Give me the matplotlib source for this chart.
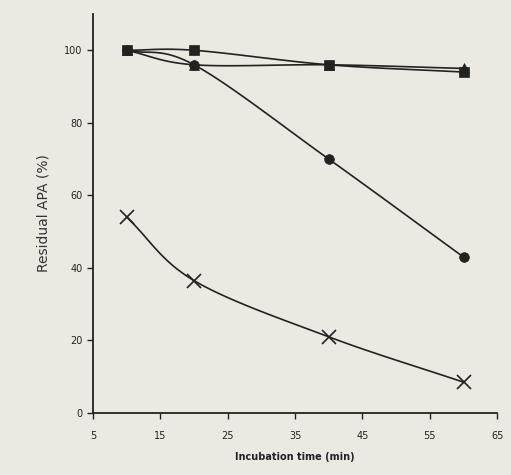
import numpy as np
import matplotlib.pyplot as plt

# incubation time (min)
times = [10, 20, 40, 60]

# residual activity (%) for each treatment
squares = [100, 100, 96, 94]
triangles = [100, 96, 96, 95]
circles = [100, 96, 70, 43]
crosses = [54, 36.5, 21, 8.5]

x_ticks = [5, 15, 25, 35, 45, 55, 65]
y_ticks = [0, 20, 40, 60, 80, 100]


def smooth(xs, ys, n=30):
    # Catmull-Rom curve through the points, like a spreadsheet "smoothed line"
    pts = np.column_stack([xs, ys]).astype(float)
    pts = np.vstack([2 * pts[0] - pts[1], pts, 2 * pts[-1] - pts[-2]])
    out = []
    for i in range(1, len(pts) - 2):
        p0, p1, p2, p3 = pts[i - 1], pts[i], pts[i + 1], pts[i + 2]
        t = np.linspace(0, 1, n)[:, None]
        seg = 0.5 * ((2 * p1) + (-p0 + p2) * t
                     + (2 * p0 - 5 * p1 + 4 * p2 - p3) * t ** 2
                     + (-p0 + 3 * p1 - 3 * p2 + p3) * t ** 3)
        out.append(seg)
    out = np.vstack(out)
    return out[:, 0], out[:, 1]


ink = '#222222'
paper = '#ece9e2'

fig = plt.figure(figsize=(5.11, 4.75), dpi=100)
fig.patch.set_facecolor(paper)
ax = fig.add_axes([0.182, 0.1305, 0.791, 0.84])
ax.set_facecolor(paper)

# drawn back to front so the square/triangle marks sit on top
series = [(crosses, 'x', 10), (circles, 'o', 7), (triangles, '^', 7), (squares, 's', 7)]
for ys, marker, size in series:
    sx, sy = smooth(times, ys)
    ax.plot(sx, sy, color=ink, lw=1.2)
    ax.plot(times, ys, linestyle='none', marker=marker, markersize=size,
            color=ink, markeredgewidth=1.2 if marker == 'x' else 0.5)

ax.set_xlim(5, 65)
ax.set_ylim(0, 110)
ax.set_xticks(x_ticks)
ax.set_yticks(y_ticks)
ax.tick_params(labelsize=7, colors=ink, length=4, width=1)
ax.tick_params(axis='x', pad=9)

for side in ['top', 'right']:
    ax.spines[side].set_visible(False)
for side in ['left', 'bottom']:
    ax.spines[side].set_color(ink)
    ax.spines[side].set_linewidth(1.3)

ax.set_ylabel('Residual APA (%)', fontsize=10, color='#333333', labelpad=10)
ax.set_xlabel('Incubation time (min)', fontsize=7, color=ink, labelpad=8,
              fontweight='bold')

plt.savefig('out.png', dpi=100, facecolor=paper)
